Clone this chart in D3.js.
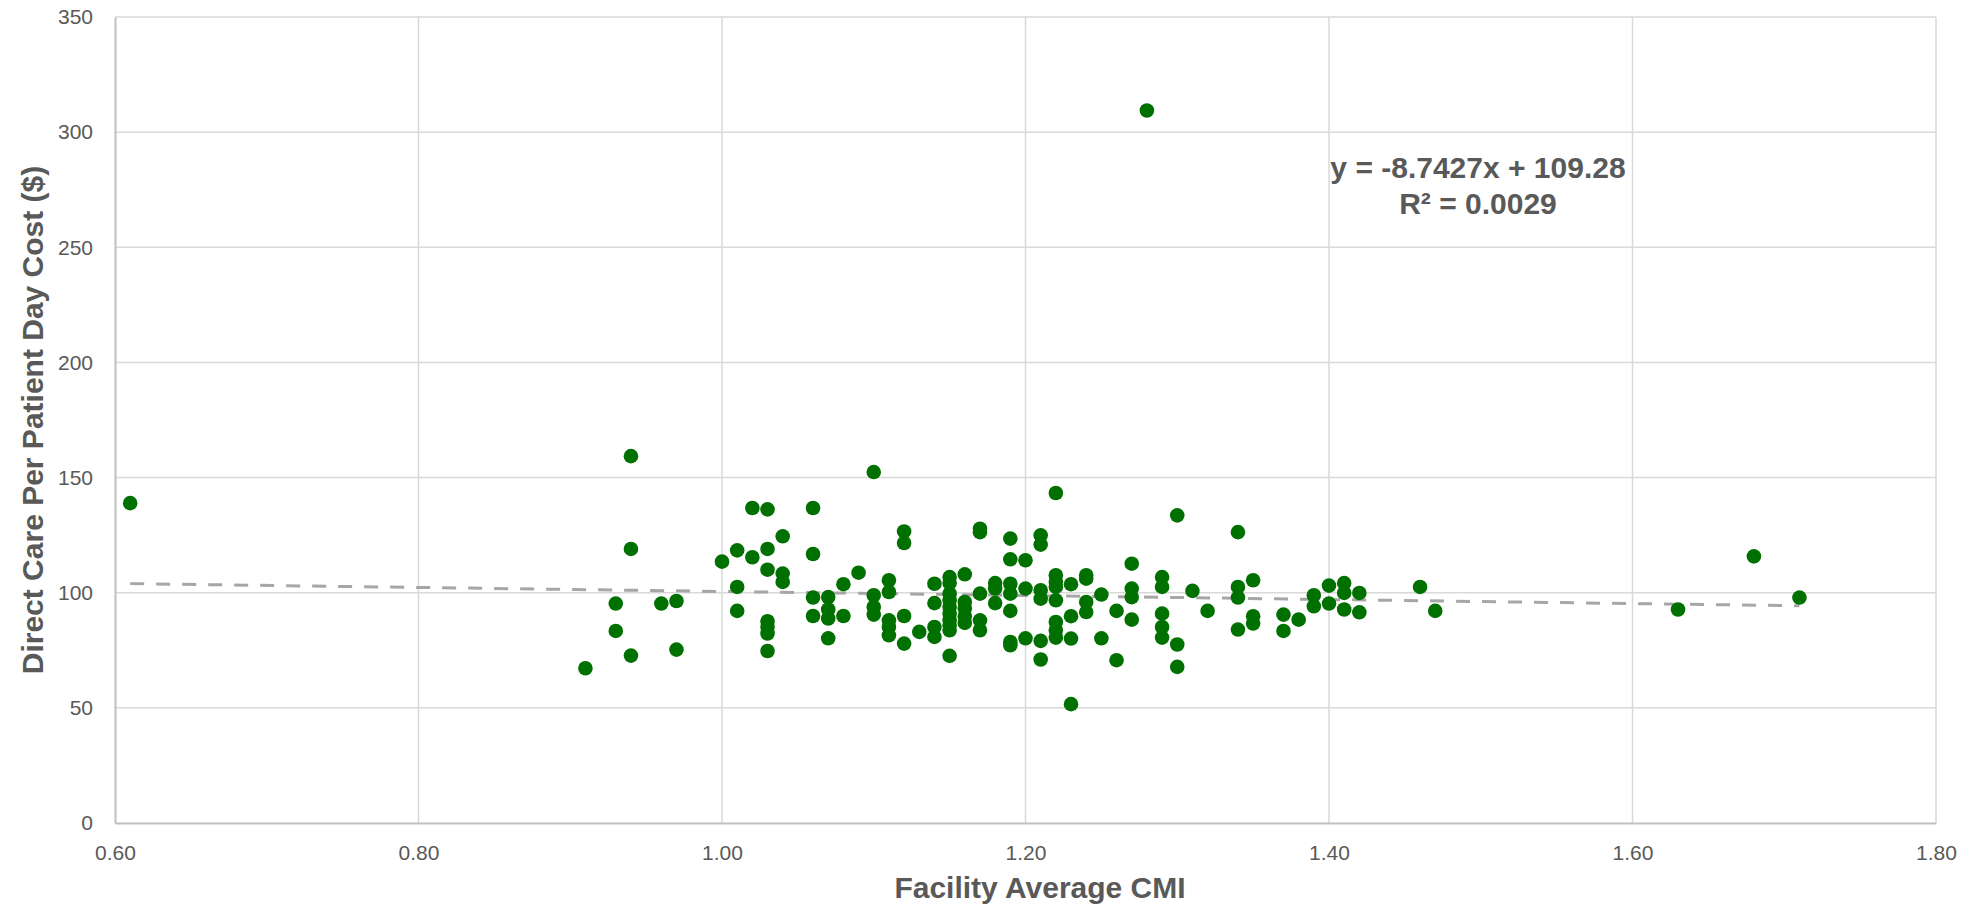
<!DOCTYPE html>
<html>
<head>
<meta charset="utf-8">
<script src="https://cdn.jsdelivr.net/npm/d3@7"></script>
<style>
  html, body { margin: 0; padding: 0; background: #fff; }
  svg text { font-family: "Liberation Sans", Arial, sans-serif; }
</style>
</head>
<body>
<div id="chart"></div>
<script>
// facility CMI (x) and direct care cost per patient day (y)
const cmiValues = [
    0.61,
    0.91,
    0.93, 0.93,
    0.94, 0.94, 0.94,
    0.96,
    0.97, 0.97,
    1.00,
    1.01, 1.01, 1.01,
    1.02, 1.02,
    1.03, 1.03, 1.03, 1.03, 1.03, 1.03, 1.03,
    1.04, 1.04, 1.04,
    1.06, 1.06, 1.06, 1.06,
    1.07, 1.07, 1.07, 1.07,
    1.08, 1.08,
    1.09,
    1.10, 1.10, 1.10, 1.10,
    1.11, 1.11, 1.11, 1.11, 1.11,
    1.12, 1.12, 1.12, 1.12,
    1.13,
    1.14, 1.14, 1.14, 1.14,
    1.15, 1.15, 1.15, 1.15, 1.15, 1.15, 1.15, 1.15, 1.15, 1.15,
    1.16, 1.16, 1.16, 1.16, 1.16,
    1.17, 1.17, 1.17, 1.17, 1.17,
    1.18, 1.18, 1.18,
    1.19, 1.19, 1.19, 1.19, 1.19, 1.19, 1.19,
    1.20, 1.20, 1.20,
    1.21, 1.21, 1.21, 1.21, 1.21, 1.21,
    1.22, 1.22, 1.22, 1.22, 1.22, 1.22, 1.22, 1.22,
    1.23, 1.23, 1.23, 1.23,
    1.24, 1.24, 1.24, 1.24,
    1.25, 1.25,
    1.26, 1.26,
    1.27, 1.27, 1.27, 1.27,
    1.28,
    1.29, 1.29, 1.29, 1.29, 1.29,
    1.30, 1.30, 1.30,
    1.31,
    1.32,
    1.34, 1.34, 1.34, 1.34,
    1.35, 1.35, 1.35,
    1.37, 1.37,
    1.38,
    1.39, 1.39,
    1.40, 1.40,
    1.41, 1.41, 1.41,
    1.42, 1.42,
    1.46,
    1.47,
    1.63,
    1.68,
    1.71
]

const costValues = [
    138.9,
    67.2,
    95.3, 83.4,
    159.3, 119.0, 72.7,
    95.3,
    96.4, 75.3,
    113.5,
    118.4, 102.5, 92.1,
    136.8, 115.4,
    136.2, 119.0, 110.0, 87.6, 85.1, 82.3, 74.7,
    124.5, 108.3, 104.7,
    136.8, 116.8, 97.9, 89.9,
    98.1, 92.7, 88.8, 80.2,
    103.7, 89.9,
    108.7,
    152.4, 98.9, 93.8, 90.5,
    105.4, 100.3, 88.0, 85.1, 81.5,
    126.6, 121.6, 89.9, 77.9,
    83.0,
    103.9, 95.5, 85.1, 80.8,
    106.8, 104.2, 99.6, 96.7, 93.8, 90.9, 88.0, 85.9, 83.7, 72.6,
    108.0, 96.0, 93.1, 89.8, 86.9,
    127.8, 126.3, 99.6, 88.0, 83.7,
    104.2, 101.8, 95.5,
    123.5, 114.5, 103.9, 99.6, 92.1, 78.6, 77.2,
    114.1, 101.8, 80.2,
    124.9, 120.9, 101.1, 97.4, 79.1, 71.0,
    143.3, 107.6, 104.7, 102.5, 96.7, 87.3, 83.7, 80.5,
    103.7, 89.8, 80.1, 51.6,
    107.6, 106.1, 96.0, 91.6,
    99.2, 80.2,
    92.1, 70.7,
    112.6, 101.8, 98.1, 88.3,
    309.4,
    106.8, 102.5, 90.9, 85.1, 80.5,
    133.6, 77.5, 67.8,
    100.8,
    92.1,
    126.3, 102.5, 97.9, 84.0,
    105.4, 89.8, 86.6,
    90.5, 83.4,
    88.3,
    98.9, 94.1,
    103.1, 95.3,
    104.2, 99.9, 92.7,
    99.9, 91.5,
    102.5,
    92.1,
    92.7,
    115.8,
    97.9
]

const xTicks = [0.6, 0.8, 1.0, 1.2, 1.4, 1.6, 1.8]
const yTicks = [0, 50, 100, 150, 200, 250, 300, 350]

// linear trendline as printed on the chart
const trendSlope = -8.7427
const trendIntercept = 109.28
const trendLabel = ["y = -8.7427x + 109.28", "R² = 0.0029"]

const xTitle = "Facility Average CMI"
const yTitle = "Direct Care Per Patient Day Cost ($)"

const points = cmiValues.map((x, i) => ({ x, y: costValues[i] }))

const width = 1975
const height = 907
const marginTop = 17
const marginRight = 39
const marginBottom = 84
const marginLeft = 115

const textColor = "#595959"
const gridColor = "#d9d9d9"
const axisColor = "#bfbfbf"
const dotColor = "#007000"

const x = d3.scaleLinear()
    .domain([0.6, 1.8])
    .range([marginLeft, width - marginRight])

const y = d3.scaleLinear()
    .domain([0, 350])
    .range([height - marginBottom, marginTop])

const svg = d3.create("svg")
    .attr("width", width)
    .attr("height", height)
    .attr("viewBox", [0, 0, width, height])

// gridlines
svg.append("g")
    .attr("stroke", gridColor)
    .attr("stroke-width", 1.5)
    .selectAll()
    .data(yTicks.slice(1))
    .join("line")
    .attr("x1", marginLeft)
    .attr("x2", width - marginRight)
    .attr("y1", d => y(d))
    .attr("y2", d => y(d))

svg.append("g")
    .attr("stroke", gridColor)
    .attr("stroke-width", 1.5)
    .selectAll()
    .data(xTicks.slice(1))
    .join("line")
    .attr("x1", d => x(d))
    .attr("x2", d => x(d))
    .attr("y1", marginTop)
    .attr("y2", height - marginBottom)

// x axis
svg.append("g")
    .attr("transform", `translate(0,${height - marginBottom})`)
    .call(d3.axisBottom(x).tickValues(xTicks).tickSize(0).tickPadding(22).tickFormat(d3.format(".2f")))
    .call(g => g.select(".domain").attr("stroke", axisColor).attr("stroke-width", 2))
    .call(g => g.selectAll(".tick text")
        .attr("fill", textColor)
        .attr("font-size", 21)
        .attr("font-family", "Liberation Sans, Arial, sans-serif"))

// y axis
svg.append("g")
    .attr("transform", `translate(${marginLeft},0)`)
    .call(d3.axisLeft(y).tickValues(yTicks).tickSize(0).tickPadding(22))
    .call(g => g.select(".domain").attr("stroke", axisColor).attr("stroke-width", 2))
    .call(g => g.selectAll(".tick text")
        .attr("fill", textColor)
        .attr("font-size", 21)
        .attr("font-family", "Liberation Sans, Arial, sans-serif"))

// trendline
const [xMin, xMax] = d3.extent(cmiValues)
svg.append("line")
    .attr("x1", x(xMin))
    .attr("y1", y(trendSlope * xMin + trendIntercept))
    .attr("x2", x(xMax))
    .attr("y2", y(trendSlope * xMax + trendIntercept))
    .attr("stroke", "#a6a6a6")
    .attr("stroke-width", 3)
    .attr("stroke-dasharray", "14 12")

// dots
svg.append("g")
    .attr("fill", dotColor)
    .selectAll()
    .data(points)
    .join("circle")
    .attr("cx", d => x(d.x))
    .attr("cy", d => y(d.y))
    .attr("r", 7.3)

// trendline equation
const labelX = 1478
svg.append("text")
    .attr("x", labelX)
    .attr("y", 178)
    .attr("text-anchor", "middle")
    .attr("fill", textColor)
    .attr("font-size", 30)
    .attr("font-weight", "bold")
    .selectAll("tspan")
    .data(trendLabel)
    .join("tspan")
    .attr("x", labelX)
    .attr("dy", (d, i) => i === 0 ? 0 : 36)
    .text(d => d)

// axis titles
svg.append("text")
    .attr("x", 1040)
    .attr("y", 898)
    .attr("text-anchor", "middle")
    .attr("fill", textColor)
    .attr("font-size", 30)
    .attr("font-weight", "bold")
    .text(xTitle)

svg.append("text")
    .attr("transform", `translate(43,${(marginTop + height - marginBottom) / 2}) rotate(-90)`)
    .attr("text-anchor", "middle")
    .attr("fill", textColor)
    .attr("font-size", 30)
    .attr("font-weight", "bold")
    .text(yTitle)

document.getElementById("chart").append(svg.node())
</script>
</body>
</html>
